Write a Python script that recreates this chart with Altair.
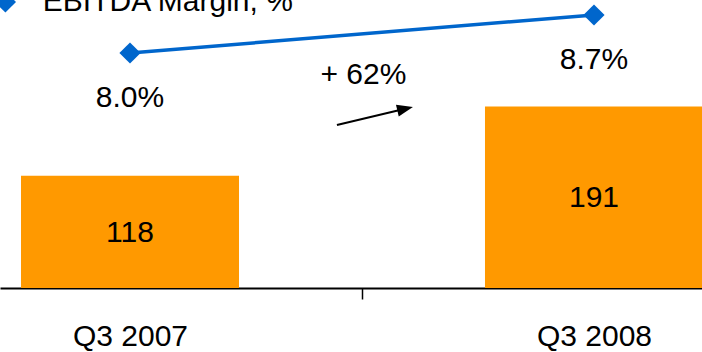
import altair as alt
import pandas as pd

# ---- data ----
periods = ["Q3 2007", "Q3 2008"]
ebitda = [118, 191]
margin = [8.0, 8.7]
margin_labels = ["8.0%", "8.7%"]
series_name = "EBITDA Margin, %"
growth_label = "+ 62%"
# arrow annotation in data units (x index, bar-scale y)
arrow_x = [0.446, 0.593]
arrow_y = [171.5, 188.6]
growth_pos = [0.503, 214.7]

FONT = "Liberation Sans"
FS = 30
ORANGE = "#FF9900"
BLUE = "#0066CC"

idx = list(range(len(periods)))
bars_df = pd.DataFrame({"idx": idx, "period": periods, "value": ebitda})
line_df = pd.DataFrame({"idx": idx, "margin": margin, "label": margin_labels,
                        "series": [series_name] * len(idx)})
arrow_df = pd.DataFrame({"x": [arrow_x[0]], "x2": [arrow_x[1]],
                         "y": [arrow_y[0]], "y2": [arrow_y[1]]})
head_df = pd.DataFrame({"x": [arrow_x[1]], "y": [arrow_y[1]]})
growth_df = pd.DataFrame({"x": [growth_pos[0]], "y": [growth_pos[1]], "t": [growth_label]})

xscale = alt.Scale(domain=[-0.2802, 1.2328], nice=False, zero=False, padding=0)
ybar = alt.Scale(domain=[0, 303], nice=False, padding=0)
yline = alt.Scale(domain=[3.672, 8.976], nice=False, zero=False, padding=0)

label_expr = " : ".join(
    [f"datum.value == {i} ? '{p}'" for i, p in enumerate(periods)]) + " : ''"

xaxis = alt.Axis(
    values=[0, 0.5, 1], labelExpr=label_expr, title=None, grid=False,
    domainColor="black", domainWidth=2, tickColor="black", tickWidth=1.5,
    tickSize=11,
    tickOpacity={"condition": {"test": "datum.value == 0.5", "value": 1}, "value": 0},
    labelFont=FONT, labelFontSize=FS, labelColor="black",
    labelBaseline="alphabetic", labelPadding=46, labelFlush=False,
)


def X(field):
    return alt.X(field, scale=xscale, axis=xaxis)


bars = alt.Chart(bars_df).mark_bar(size=218, color=ORANGE).encode(
    x=X("idx:Q"),
    y=alt.Y("value:Q", scale=ybar, axis=None),
)

bar_text = alt.Chart(bars_df).transform_calculate(mid="datum.value / 2").mark_text(
    font=FONT, fontSize=FS, color="black", baseline="alphabetic", dy=10
).encode(
    x=X("idx:Q"),
    y=alt.Y("mid:Q", scale=ybar, axis=None),
    text=alt.Text("value:Q"),
)

line = alt.Chart(line_df).mark_line(
    strokeWidth=3.5, point=alt.OverlayMarkDef(shape="diamond", size=450, filled=True, color=BLUE)
).encode(
    x=X("idx:Q"),
    y=alt.Y("margin:Q", scale=yline, axis=None),
    color=alt.Color("series:N", scale=alt.Scale(range=[BLUE]),
                    legend=alt.Legend(title=None, orient="none", legendX=-9.6, legendY=-13,
                                      padding=0, symbolType="diamond", symbolSize=450,
                                      symbolFillColor=BLUE, symbolStrokeWidth=0,
                                      labelFont=FONT, labelFontSize=FS, labelColor="black",
                                      labelOffset=22.4, labelLimit=0)),
)

line_text = alt.Chart(line_df).mark_text(
    font=FONT, fontSize=FS, color="black", baseline="alphabetic", dy=54
).encode(
    x=X("idx:Q"),
    y=alt.Y("margin:Q", scale=yline, axis=None),
    text="label:N",
)

arrow = alt.Chart(arrow_df).mark_rule(color="black", strokeWidth=2).encode(
    x=X("x:Q"),
    x2="x2:Q",
    y=alt.Y("y:Q", scale=ybar, axis=None),
    y2="y2:Q",
)

head = alt.Chart(head_df).mark_point(
    shape="M1,0 L-1,-0.75 L-1,0.75 Z", size=256, filled=True, color="black",
    opacity=1, angle=346.7
).encode(
    x=X("x:Q"),
    y=alt.Y("y:Q", scale=ybar, axis=None),
)

growth = alt.Chart(growth_df).mark_text(
    font=FONT, fontSize=FS, color="black", baseline="alphabetic"
).encode(
    x=X("x:Q"),
    y=alt.Y("y:Q", scale=ybar, axis=None),
    text="t:N",
)

chart = alt.layer(bars, bar_text, arrow, head, growth, line, line_text).resolve_scale(
    y="independent"
).properties(
    width=702, height=288,
    padding={"left": 0, "right": 0, "top": 0, "bottom": 64},
    autosize=alt.AutoSizeParams(type="none", contains="content"),
    background="white",
).configure_view(stroke=None)

chart.save("out.html", embed_options={"renderer": "svg", "actions": False})
